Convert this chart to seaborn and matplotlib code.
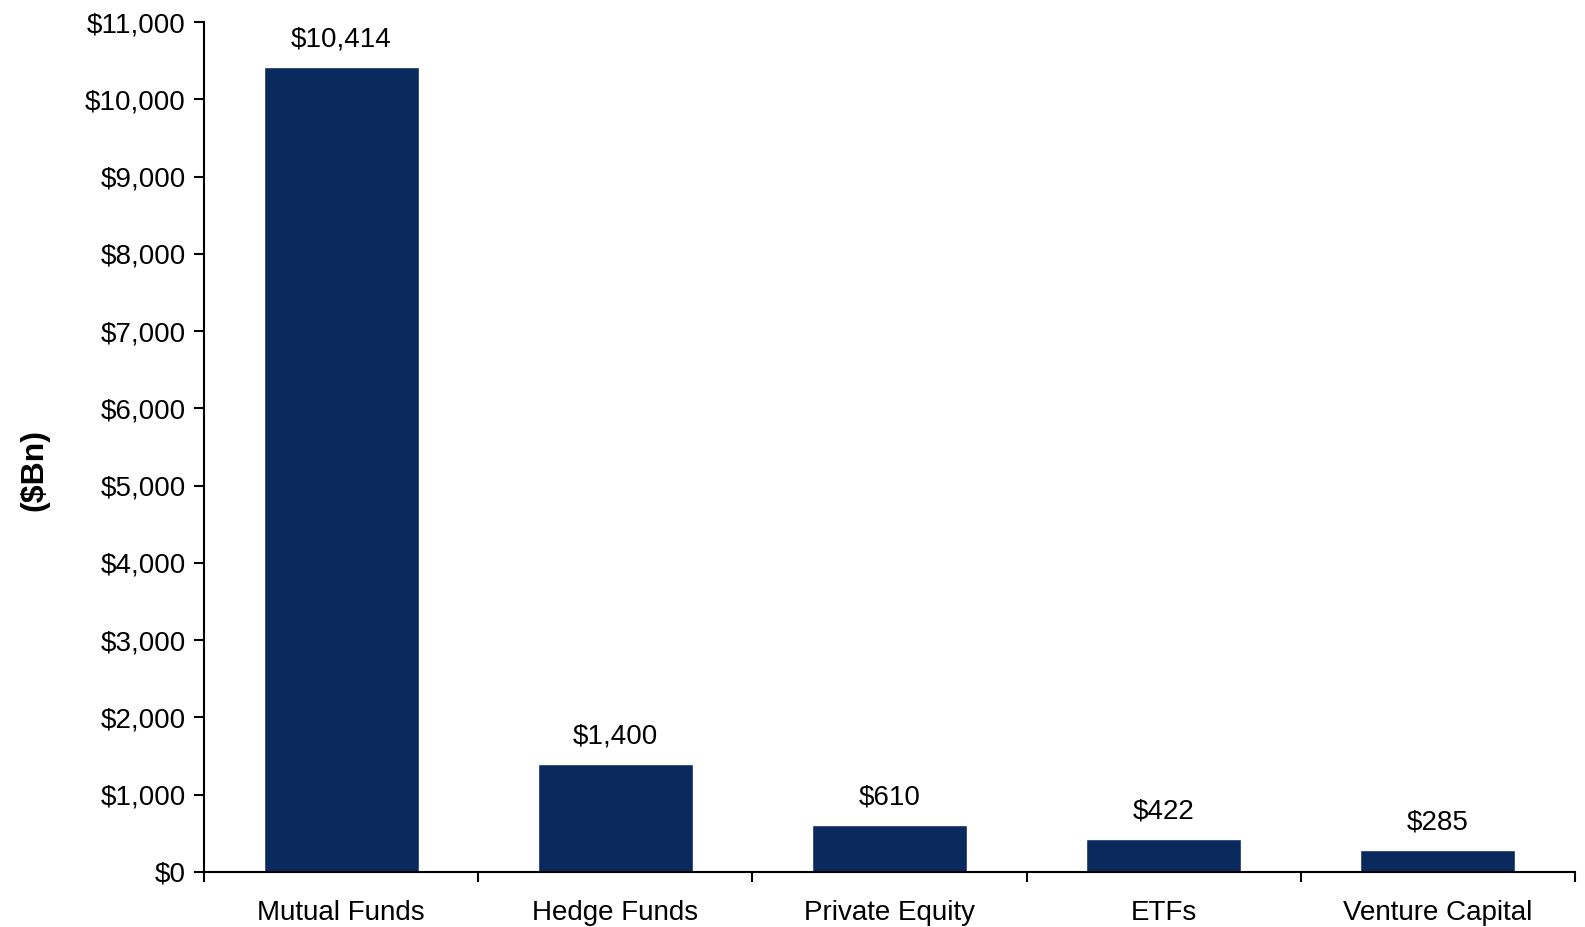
import matplotlib
matplotlib.use("Agg")
import matplotlib.pyplot as plt
import matplotlib.ticker as mticker
import pandas as pd
import seaborn as sns

# Assets under management by vehicle ($Bn)
categories = ["Mutual Funds", "Hedge Funds", "Private Equity", "ETFs", "Venture Capital"]
values = [10414, 1400, 610, 422, 285]

bar_color = "#0A2A5E"

sns.set_style("white", {"text.color": "black", "axes.labelcolor": "black",
                        "xtick.color": "black", "ytick.color": "black"})
plt.rcParams['font.family'] = ['Liberation Sans', 'DejaVu Sans']

df = pd.DataFrame({"category": categories, "aum": values})

fig = plt.figure(figsize=(15.85, 9.27), dpi=100)
ax = fig.add_axes([204 / 1585, 1 - 872 / 927, (1575 - 204) / 1585, (872 - 22) / 927])

sns.barplot(data=df, x="category", y="aum", color=bar_color, width=0.565,
            saturation=1, ax=ax)

# value labels above bars
for bar, v in zip(ax.patches, values):
    ax.annotate("${:,.0f}".format(v),
                (bar.get_x() + bar.get_width() / 2, bar.get_height()),
                ha="center", va="center", xytext=(0, 20),
                textcoords="offset points", fontsize=20, color="black")

ax.set_ylim(0, 11000)
ax.set_xlim(-0.5, len(categories) - 0.5)
ax.yaxis.set_major_locator(mticker.MultipleLocator(1000))
ax.yaxis.set_major_formatter(mticker.FuncFormatter(lambda y, p: "${:,.0f}".format(y)))

# tick marks between categories, Excel style
ax.set_xticks([i + 0.5 for i in range(-1, len(categories))], minor=True)
ax.tick_params(axis="x", which="major", bottom=True, length=0, pad=20, labelsize=20)
ax.tick_params(axis="x", which="minor", bottom=True, length=7, width=1.5, direction="out")
ax.tick_params(axis="y", which="major", left=True, length=7, width=1.5, direction="out",
               labelsize=20, pad=6)

for side in ["top", "right"]:
    ax.spines[side].set_visible(False)
for side in ["left", "bottom"]:
    ax.spines[side].set_linewidth(1.5)
    ax.spines[side].set_color("black")

ax.set_xlabel("")
ax.set_ylabel("($Bn)", fontsize=23, fontweight="bold")
ax.yaxis.set_label_coords(-0.113, 0.473)

fig.savefig("out.png", dpi=100)
